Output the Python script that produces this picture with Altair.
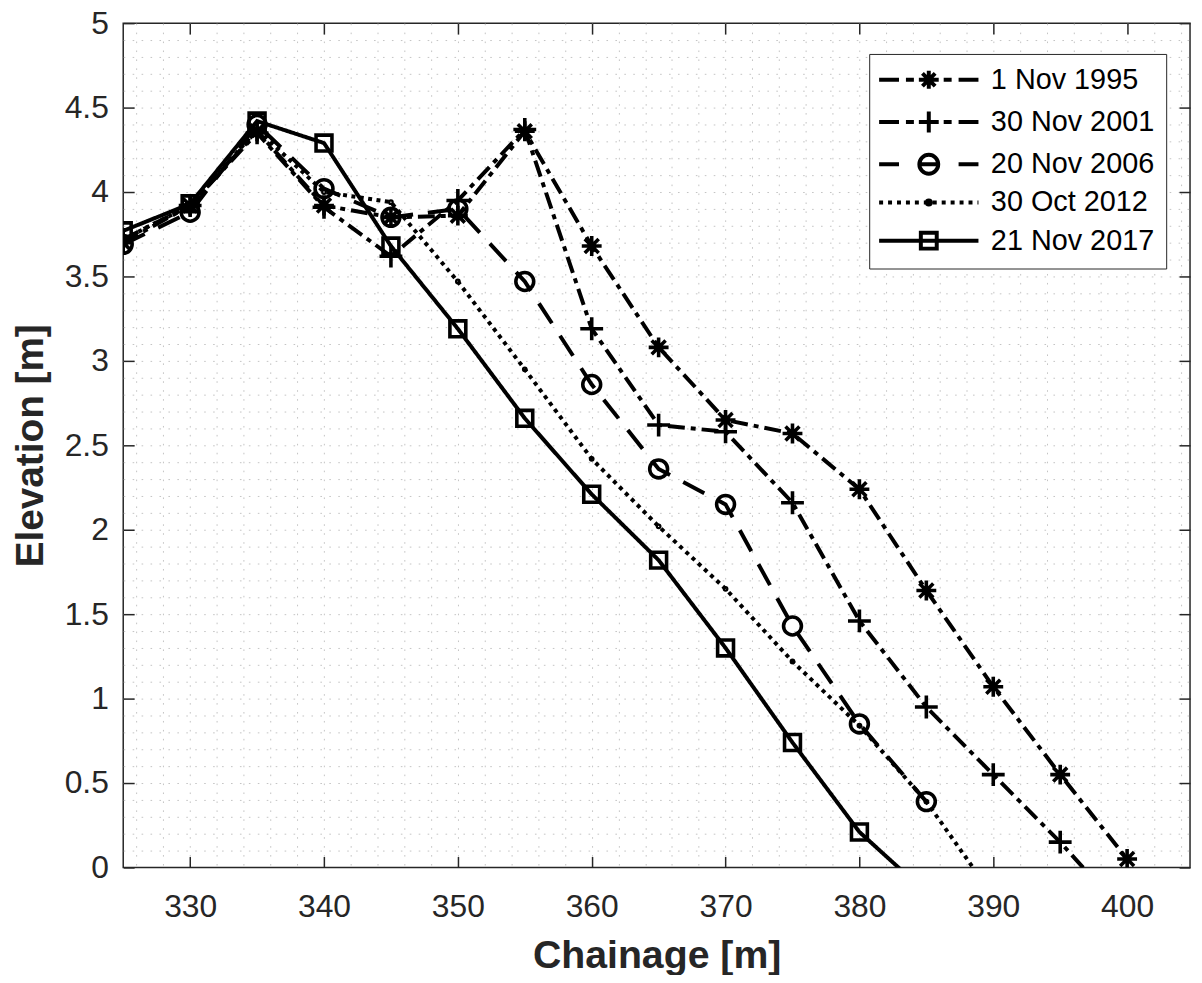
import altair as alt
import pandas as pd

# ---------------- data ----------------
surveys = ["1 Nov 1995", "30 Nov 2001", "20 Nov 2006", "30 Oct 2012", "21 Nov 2017"]

ch_1995 = [325, 330, 335, 340, 345, 350, 355, 360, 365, 370, 375, 380, 385, 390, 395, 400]
el_1995 = [3.70, 3.92, 4.36, 3.92, 3.85, 3.86, 4.36, 3.68, 3.08, 2.65, 2.57, 2.24, 1.64, 1.07, 0.55, 0.05]

ch_2001 = [325, 330, 335, 340, 345, 350, 355, 360, 365, 370, 375, 380, 385, 390, 395, 400]
el_2001 = [3.72, 3.92, 4.35, 3.91, 3.62, 3.95, 4.37, 3.19, 2.62, 2.58, 2.16, 1.46, 0.95, 0.55, 0.15, -0.29]

ch_2006 = [325, 330, 335, 340, 345, 350, 355, 360, 365, 370, 375, 380, 385]
el_2006 = [3.69, 3.88, 4.40, 4.02, 3.85, 3.90, 3.47, 2.86, 2.36, 2.15, 1.43, 0.85, 0.39]

ch_2012 = [325, 330, 335, 340, 345, 350, 355, 360, 365, 370, 375, 380, 385, 390]
el_2012 = [3.72, 3.92, 4.37, 4.00, 3.94, 3.47, 2.95, 2.42, 2.02, 1.65, 1.22, 0.84, 0.39, -0.17]

ch_2017 = [325, 330, 335, 340, 345, 350, 355, 360, 365, 370, 375, 380, 385]
el_2017 = [3.77, 3.93, 4.42, 4.29, 3.68, 3.19, 2.66, 2.21, 1.82, 1.30, 0.74, 0.21, -0.15]

x_major = [330, 340, 350, 360, 370, 380, 390, 400]
y_major = [0, 0.5, 1, 1.5, 2, 2.5, 3, 3.5, 4, 4.5, 5]
x_minor = list(range(326, 405, 2))
y_minor = [round(i * 0.1, 1) for i in range(1, 50)]

series = {
    surveys[0]: (ch_1995, el_1995),
    surveys[1]: (ch_2001, el_2001),
    surveys[2]: (ch_2006, el_2006),
    surveys[3]: (ch_2012, el_2012),
    surveys[4]: (ch_2017, el_2017),
}
rows = []
for name, (xs, ys) in series.items():
    for xv, yv in zip(xs, ys):
        rows.append({"survey": name, "chainage": xv, "elevation": yv})
df = pd.DataFrame(rows)

# ---------------- styles ----------------
W, H = 1074, 850
INK = "#262626"
FONT = "Liberation Sans"
LW = 4

dash_styles = {
    surveys[0]: [17, 6, 5, 6],
    surveys[1]: [17, 6, 5, 6],
    surveys[2]: [24, 15],
    surveys[3]: [4, 4.5],
    surveys[4]: [1, 0],
}
ASTER = "M-1,0H1M0,-1V1M-0.7,-0.7L0.7,0.7M-0.7,0.7L0.7,-0.7"
PLUS = "M-1,0H1M0,-1V1"
marker_styles = {
    surveys[0]: (ASTER, 400),
    surveys[1]: (PLUS, 529),
    surveys[2]: ("circle", 324),
    surveys[3]: ("circle", 5),
    surveys[4]: ("square", 256),
}

# legend symbols (custom paths; 1 unit = 10 px with symbol size 400)
dd = "M-5,0H-3M-2.3,0H-1.5M-1,0H1M1.5,0H2.3M3,0H5"
circ = lambda r: f"M-{r},0A{r},{r} 0 1 0 {r},0A{r},{r} 0 1 0 -{r},0Z"
dots = ""
p = -5.0
while p < 5:
    dots += f"M{p:.2f},0H{min(p + 0.4, 5):.2f}"
    p += 0.9
leg_paths = [
    dd + "M-0.9,0H0.9M0,-0.9V0.9M-0.64,-0.64L0.64,0.64M-0.64,0.64L0.64,-0.64",
    dd + "M0,-1.05V1.05",
    "M-5,0H-3M-1,0H1M3,0H5" + circ(0.95),
    dots + circ(0.2),
    "M-5,0H5M-0.8,-0.8H0.8V0.8H-0.8Z",
]

xscale = alt.Scale(domain=[325, 404.7], nice=False, zero=False)
yscale = alt.Scale(domain=[0, 5], nice=False, zero=False)


def X(axis):
    return alt.X("chainage:Q", scale=xscale, axis=axis)


def Y(axis):
    return alt.Y("elevation:Q", scale=yscale, axis=axis)


base = alt.Chart(df)
empty = base.transform_filter("false")

layers = []

# grid layer
grid_kw = dict(grid=True, gridColor="#c4c4c4", gridDash=[1.6, 7.4], gridWidth=1,
               labels=False, ticks=False, domain=False, title=None, zindex=0)
layers.append(empty.mark_point(opacity=0).encode(
    x=X(alt.Axis(orient="bottom", values=x_minor, **grid_kw)),
    y=Y(alt.Axis(orient="left", values=y_minor, **grid_kw)),
))

# labels + titles layer
layers.append(empty.mark_point(opacity=0).encode(
    x=X(alt.Axis(orient="bottom", values=x_major, format="d", grid=False, ticks=False,
                 domain=False, labelFontSize=32, labelPadding=24, labelColor=INK,
                 labelFont=FONT, title="Chainage [m]", titleFont=FONT, titleFontSize=39.5,
                 titleFontWeight="bold", titleColor=INK, titleBaseline="alphabetic",
                 titleY=101)),
    y=Y(alt.Axis(orient="left", values=y_major, format="~g", grid=False, ticks=False,
                 domain=False, labelFontSize=32, labelPadding=15, labelColor=INK,
                 labelFont=FONT, title="Elevation [m]", titleFont=FONT, titleFontSize=39,
                 titleFontWeight="bold", titleColor=INK, titleBaseline="alphabetic",
                 titleAngle=270, titleX=-81, titleY=H / 2)),
))

# inward ticks (bottom / left)
tick_kw = dict(grid=False, labels=False, domain=False, title=None, ticks=True,
               tickSize=11, tickWidth=1.5, tickColor=INK)
layers.append(empty.mark_point(opacity=0).encode(
    x=X(alt.Axis(orient="top", offset=-H, values=x_major, **tick_kw)),
    y=Y(alt.Axis(orient="right", offset=-W, values=y_major, **tick_kw)),
))
# inward ticks (top / right)
layers.append(empty.mark_point(opacity=0).encode(
    x=X(alt.Axis(orient="bottom", offset=-H, values=x_major, **tick_kw)),
    y=Y(alt.Axis(orient="left", offset=-W, values=y_major, **tick_kw)),
))

# data lines and markers
for s in surveys:
    sub = base.transform_filter(alt.datum.survey == s)
    layers.append(sub.mark_line(color="black", strokeWidth=LW, strokeDash=dash_styles[s],
                                strokeCap="butt", clip=True).encode(x=X(None), y=Y(None)))
for s in surveys:
    sub = base.transform_filter(alt.datum.survey == s)
    shp, sz = marker_styles[s]
    layers.append(sub.mark_point(color="black", filled=False, strokeWidth=3.6, shape=shp,
                                 size=sz, opacity=1, clip=True).encode(x=X(None), y=Y(None)))

# legend layer
layers.append(empty.mark_point(color="black", filled=False, strokeWidth=LW, size=400).encode(
    x=X(None), y=Y(None),
    shape=alt.Shape("survey:N", scale=alt.Scale(domain=surveys, range=leg_paths),
                    legend=alt.Legend(title=None, orient="none", legendX=751, legendY=31,
                                      direction="vertical", symbolSize=400,
                                      symbolStrokeWidth=LW, symbolStrokeColor="black",
                                      symbolFillColor="transparent", symbolOpacity=1,
                                      symbolOffset=34, labelOffset=48, rowPadding=6.5,
                                      labelFontSize=29, labelFont=FONT, labelColor="black",
                                      labelLimit=500, padding=11.5, strokeColor=INK,
                                      fillColor="white", cornerRadius=0)),
))

chart = alt.layer(*layers).resolve_axis(x="independent", y="independent").properties(
    width=W, height=H,
    autosize=alt.AutoSizeParams(type="none"),
    padding={"left": 116, "top": 12, "right": 4, "bottom": 105},
    background="white",
).configure_view(stroke=INK, strokeWidth=1.5)

chart.save("out.html", embed_options={"renderer": "svg", "actions": False})
